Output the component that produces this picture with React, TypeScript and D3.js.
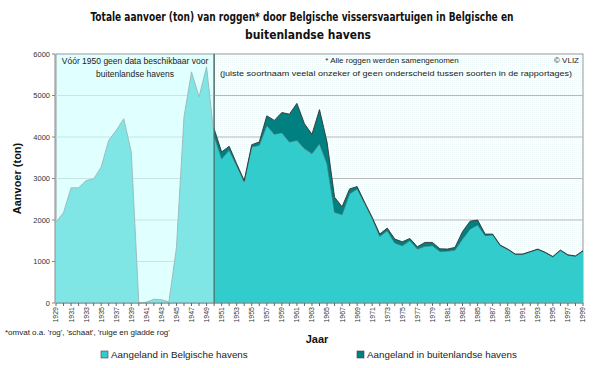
import React from 'react';
import * as d3 from 'd3';

// Jaren 1929-1999
const years = [
  1929, 1930, 1931, 1932, 1933, 1934, 1935, 1936, 1937, 1938, 1939,
  1940, 1941, 1942, 1943, 1944, 1945, 1946, 1947, 1948, 1949,
  1950, 1951, 1952, 1953, 1954, 1955, 1956, 1957, 1958, 1959,
  1960, 1961, 1962, 1963, 1964, 1965, 1966, 1967, 1968, 1969,
  1970, 1971, 1972, 1973, 1974, 1975, 1976, 1977, 1978, 1979,
  1980, 1981, 1982, 1983, 1984, 1985, 1986, 1987, 1988, 1989,
  1990, 1991, 1992, 1993, 1994, 1995, 1996, 1997, 1998, 1999,
];

// Aangeland in Belgische havens (ton), 1929-1999
const belgisch = [
  1950, 2180, 2775, 2775, 2950, 2990, 3275, 3920, 4160, 4440, 3640,
  0, 20, 90, 80, 30, 1340, 4480, 5570, 4970, 5690,
  4030, 3475, 3680, 3310, 2920, 3760, 3800, 4280, 4065, 4105,
  3880, 3920, 3720, 3600, 3840, 3355, 2185, 2130, 2630, 2750,
  2400, 2040, 1605, 1740, 1445, 1380, 1500, 1300, 1365, 1380,
  1240, 1250, 1275, 1540, 1780, 1880, 1620, 1640, 1380, 1290,
  1170, 1170, 1230, 1290, 1210, 1110, 1265, 1150, 1125, 1250,
];

// Aangeland in buitenlandse havens (ton), 1950-1999
const buitenland = [
  170, 165, 95, 45, 30, 55, 80, 230, 335, 485,
  670, 890, 600, 465, 820, 525, 365, 190, 120, 55,
  25, 25, 55, 65, 95, 95, 55, 55, 95, 80,
  65, 50, 65, 180, 190, 120, 40, 20, 15, 10,
  10, 10, 10, 10, 10, 10, 10, 10, 10, 10,
];

const yTicks = [0, 1000, 2000, 3000, 4000, 5000, 6000];
const splitYear = 1950;

const font = 'Tahoma, "Liberation Sans", "DejaVu Sans", sans-serif';
const titleFont = '"DejaVu Sans Condensed", "Liberation Sans Narrow", "Liberation Sans", sans-serif';

export default function App() {
  const x = d3.scaleLinear().domain([1929, 1999]).range([56, 583]);
  const y = d3.scaleLinear().domain([0, 6000]).range([303, 54]);

  const rows = years.map((yr, i) => {
    const j = yr - splitYear;
    const buit = j >= 0 ? buitenland[j] : 0;
    return { year: yr, bel: belgisch[i], buit };
  });
  const early = rows.filter(d => d.year <= splitYear);
  const late = rows.filter(d => d.year >= splitYear);

  const areaBel = d3.area<any>().x(d => x(d.year)).y0(y(0)).y1(d => y(d.bel));
  const lineBel = d3.line<any>().x(d => x(d.year)).y(d => y(d.bel));
  const areaBuit = d3.area<any>().x(d => x(d.year)).y0(d => y(d.bel)).y1(d => y(d.bel + d.buit));
  const lineTotal = d3.line<any>().x(d => x(d.year)).y(d => y(d.bel + d.buit));

  const x0 = x(1929);
  const xs = x(splitYear);
  const x1 = x(1999);
  const yTop = y(6000);
  const yBot = y(0);

  return (
    <svg width={600} height={368} style={{ position: 'absolute', left: 0, top: 0, background: '#fff' }}>
      <defs>
        <pattern id="dots" width="2" height="2" patternUnits="userSpaceOnUse">
          <rect width="2" height="2" fill="#fbffff" />
          <rect width="1" height="1" fill="#eef8f8" />
        </pattern>
      </defs>

      {/* titel */}
      <text x={302} y={21} textAnchor="middle" fontFamily={titleFont} fontSize={11.5} fontWeight="bold" fill="#111" textLength={423} lengthAdjust="spacingAndGlyphs">
        Totale aanvoer (ton) van roggen* door Belgische vissersvaartuigen in Belgische en
      </text>
      <text x={308} y={39} textAnchor="middle" fontFamily={titleFont} fontSize={11.5} fontWeight="bold" fill="#111" textLength={126} lengthAdjust="spacingAndGlyphs">
        buitenlandse havens
      </text>

      {/* achtergrond */}
      <rect x={xs} y={yTop} width={x1 - xs} height={yBot - yTop} fill="url(#dots)" stroke="#999" />
      <rect x={x0} y={yTop} width={xs - x0} height={yBot - yTop} fill="#e0ffff" stroke="#999" />

      {/* rasterlijnen */}
      {yTicks.filter(t => t > 0 && t < 6000).map(t => (
        <g key={t}>
          <line x1={x0} x2={xs} y1={y(t)} y2={y(t)} stroke="#c6e6e6" strokeWidth={1.2} />
          <line x1={xs} x2={x1} y1={y(t)} y2={y(t)} stroke="#b8b8b8" strokeWidth={1.2} />
        </g>
      ))}

      {/* voor 1950 */}
      <path d={areaBel(early) || ''} fill="#7fe5e5" />
      <path d={lineBel(early) || ''} fill="none" stroke="#9ab8b8" strokeWidth={0.9} />

      {/* vanaf 1950 */}
      <path d={areaBel(late) || ''} fill="#33cccc" />
      <path d={areaBuit(late) || ''} fill="#008080" />
      <path d={lineBel(late) || ''} fill="none" stroke="#2a6060" strokeWidth={0.6} />
      <path d={lineTotal(late) || ''} fill="none" stroke="#333" strokeWidth={0.9} />

      <line x1={xs} x2={xs} y1={yTop} y2={yBot} stroke="#4a6a6a" strokeWidth={1.2} />

      {/* annotaties */}
      <text x={(x0 + xs) / 2} y={64} textAnchor="middle" fontFamily={font} fontSize={8.5} fill="#222">
        Vóór 1950 geen data beschikbaar voor
      </text>
      <text x={(x0 + xs) / 2} y={77} textAnchor="middle" fontFamily={font} fontSize={8.5} fill="#222">
        buitenlandse havens
      </text>
      <text x={392} y={63} textAnchor="middle" fontFamily={font} fontSize={8} fill="#222">
        * Alle roggen werden samengenomen
      </text>
      <text x={396} y={76} textAnchor="middle" fontFamily={font} fontSize={8} fill="#222" textLength={352} lengthAdjust="spacingAndGlyphs">
        (juiste soortnaam veelal onzeker of geen onderscheid tussen soorten in de rapportages)
      </text>
      <text x={579} y={63} textAnchor="end" fontFamily={font} fontSize={8} fill="#222">
        © VLIZ
      </text>

      {/* y-as */}
      <line x1={55} x2={55} y1={yTop} y2={yBot} stroke="#888" />
      {yTicks.map(t => (
        <g key={t}>
          <line x1={52} x2={55} y1={y(t)} y2={y(t)} stroke="#888" />
          <text x={50} y={y(t)} dy="0.35em" textAnchor="end" fontFamily={font} fontSize={7.5} fill="#333">
            {t}
          </text>
        </g>
      ))}
      <text transform={`translate(21,${(yTop + yBot) / 2}) rotate(-90)`} textAnchor="middle" fontFamily={font} fontSize={11} fontWeight="bold" fill="#111">
        Aanvoer (ton)
      </text>

      {/* x-as */}
      <line x1={x0} x2={x1} y1={yBot} y2={yBot} stroke="#888" />
      {years.map(yr => (
        <line key={yr} x1={x(yr)} x2={x(yr)} y1={yBot} y2={yBot + 3} stroke="#666" />
      ))}
      {years.filter(yr => (yr - 1929) % 2 === 0).map(yr => (
        <text key={yr} transform={`translate(${x(yr)},${yBot + 4}) rotate(-90)`} dy="0.35em" textAnchor="end" fontFamily={font} fontSize={7} fill="#333">
          {yr}
        </text>
      ))}
      <text x={317} y={343} textAnchor="middle" fontFamily={font} fontSize={11} fontWeight="bold" fill="#111">
        Jaar
      </text>
      <text x={5} y={335} fontFamily={font} fontSize={8} fill="#222">
        *omvat o.a. 'rog', 'schaat', 'ruige en gladde rog'
      </text>

      {/* legende */}
      <rect x={101} y={351} width={7} height={7} fill="#33cccc" stroke="#444" strokeWidth={0.6} />
      <text x={111} y={358} fontFamily={font} fontSize={9.8} fill="#222">
        Aangeland in Belgische havens
      </text>
      <rect x={357} y={351} width={7} height={7} fill="#008080" stroke="#444" strokeWidth={0.6} />
      <text x={367} y={358} fontFamily={font} fontSize={9.8} fill="#222">
        Aangeland in buitenlandse havens
      </text>
    </svg>
  );
}
